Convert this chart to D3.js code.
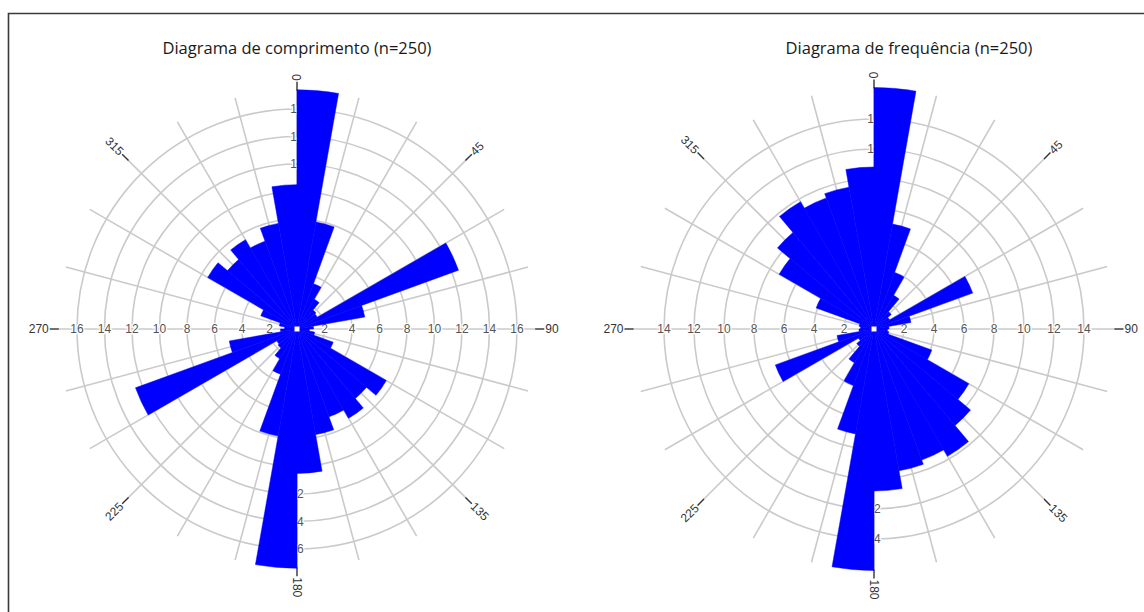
<!DOCTYPE html>
<html><head><meta charset="utf-8">
<script src="https://cdn.jsdelivr.net/npm/d3@7/dist/d3.min.js"></script>
<style>body{margin:0;background:#fff} svg{display:block}</style>
</head><body>
<svg id="chart" width="1144" height="612"></svg>
<script>
// bin start angles (degrees clockwise from north), 10° bins
const binStarts = [0,10,20,30,40,50,60,70,80,90,100,110,120,130,140,150,160,170,
                   180,190,200,210,220,230,240,250,260,270,280,290,300,310,320,330,340,350];
// Diagrama de comprimento
const lengthValues = [17.4,7.9,3.5,2.5,1.8,1.7,12.5,5.0,1.2,0.9,1.3,2.8,7.5,6.6,7.5,6.8,7.8,10.5,
                      17.4,7.9,3.5,2.5,1.8,1.7,12.5,5.0,1.2,0.9,1.3,2.8,7.5,6.6,7.5,6.8,7.8,10.5];
// Diagrama de frequência
const freqValues = [16.1,7.1,4.0,2.6,1.5,1.2,7.0,2.5,1.0,0.9,1.0,4.1,7.3,8.4,9.8,9.3,9.6,10.8,
                    16.1,7.1,4.0,2.6,1.5,1.2,7.0,2.5,1.0,0.9,1.0,4.1,7.3,8.4,9.8,9.3,9.6,10.8];
const lengthTicks = [2,4,6,8,10,12,14,16];
const freqTicks = [2,4,6,8,10,12,14];
const gridAngles = [0,15,30,45,60,75,90,105,120,135,150,165,180,195,210,225,240,255,270,285,300,315,330,345];
const directionLabels = [0,45,90,135,180,225,270,315];
const titles = ["Diagrama de comprimento (n=250)", "Diagrama de frequência (n=250)"];
const binWidth = 10;

const svg = d3.select("#chart");

// frame
svg.append("path").attr("d","M8.5,612 L8.5,13.5 L1144,13.5")
  .attr("fill","none").attr("stroke","#3a3a3a").attr("stroke-width",1.6);

const panels = [
  {cx:297, cy:329, values:lengthValues, ticks:lengthTicks, tickMax:16, tickPx:220, title:titles[0], tx:297},
  {cx:874, cy:329, values:freqValues, ticks:freqTicks, tickMax:14, tickPx:210, title:titles[1], tx:909}
];

const rad = d => d*Math.PI/180;

panels.forEach(p => {
  const r = d3.scaleLinear().domain([0,p.tickMax]).range([0,p.tickPx]);
  const R = r(d3.max(p.values));
  const g = svg.append("g").attr("transform",`translate(${p.cx},${p.cy})`);

  // title
  svg.append("text").attr("x",p.tx).attr("y",54).attr("text-anchor","middle")
    .attr("font-family","'Open Sans', 'Noto Sans', sans-serif").attr("font-size",16.5)
    .attr("fill","#1a1a1a").text(p.title);

  // grid circles
  g.selectAll("circle.grid").data(p.ticks).join("circle")
    .attr("r",d=>r(d)).attr("fill","none").attr("stroke","#cacaca").attr("stroke-width",1.6);

  // radial lines
  g.selectAll("line.spoke").data(gridAngles).join("line")
    .attr("x1",0).attr("y1",0)
    .attr("x2",d=>R*Math.sin(rad(d))).attr("y2",d=>-R*Math.cos(rad(d)))
    .attr("stroke","#cacaca").attr("stroke-width",1.6);

  // direction ticks
  g.selectAll("line.dtick").data(directionLabels).join("line")
    .attr("x1",d=>(R-1)*Math.sin(rad(d))).attr("y1",d=>-(R-1)*Math.cos(rad(d)))
    .attr("x2",d=>(R+8)*Math.sin(rad(d))).attr("y2",d=>-(R+8)*Math.cos(rad(d)))
    .attr("stroke","#333").attr("stroke-width",1.4);

  // direction labels
  g.selectAll("text.dlab").data(directionLabels).join("text")
    .attr("transform",d=>{
      const x=(R+9)*Math.sin(rad(d)), y=-(R+9)*Math.cos(rad(d));
      const rot = d<=180 ? d-90 : d-270;
      return `translate(${x},${y}) rotate(${rot})`;
    })
    .attr("text-anchor",d=>d<=180?"start":"end")
    .attr("dominant-baseline","central")
    .attr("font-family","'Liberation Sans', Arial, sans-serif").attr("font-size",12)
    .attr("fill","#333").text(d=>d);

  // radial tick labels along the four main axes
  const tl = [];
  p.ticks.forEach(v => {
    tl.push({v, x:-r(v), y:0}); tl.push({v, x:r(v), y:0});
    tl.push({v, x:0, y:-r(v)}); tl.push({v, x:0, y:r(v)});
  });
  g.selectAll("text.tlab").data(tl).join("text")
    .attr("x",d=>d.x).attr("y",d=>d.y)
    .attr("text-anchor","middle").attr("dominant-baseline","central")
    .attr("font-family","'Liberation Sans', Arial, sans-serif").attr("font-size",12)
    .attr("fill","#555").attr("stroke","#fff").attr("stroke-width",2.5)
    .attr("paint-order","stroke").text(d=>d.v);

  // bars
  const arc = d3.arc().innerRadius(0);
  g.selectAll("path.bar").data(binStarts.map((a,i)=>({a, v:p.values[i]}))).join("path")
    .attr("d",d=>arc({outerRadius:r(d.v), startAngle:rad(d.a), endAngle:rad(d.a+binWidth)}))
    .attr("fill","#0000ff").attr("stroke","#0000ff").attr("stroke-width",0.5);

  // center dot
  g.append("rect").attr("x",-2.5).attr("y",-2.5).attr("width",5).attr("height",5).attr("fill","#fff");
});
</script>
</body></html>
